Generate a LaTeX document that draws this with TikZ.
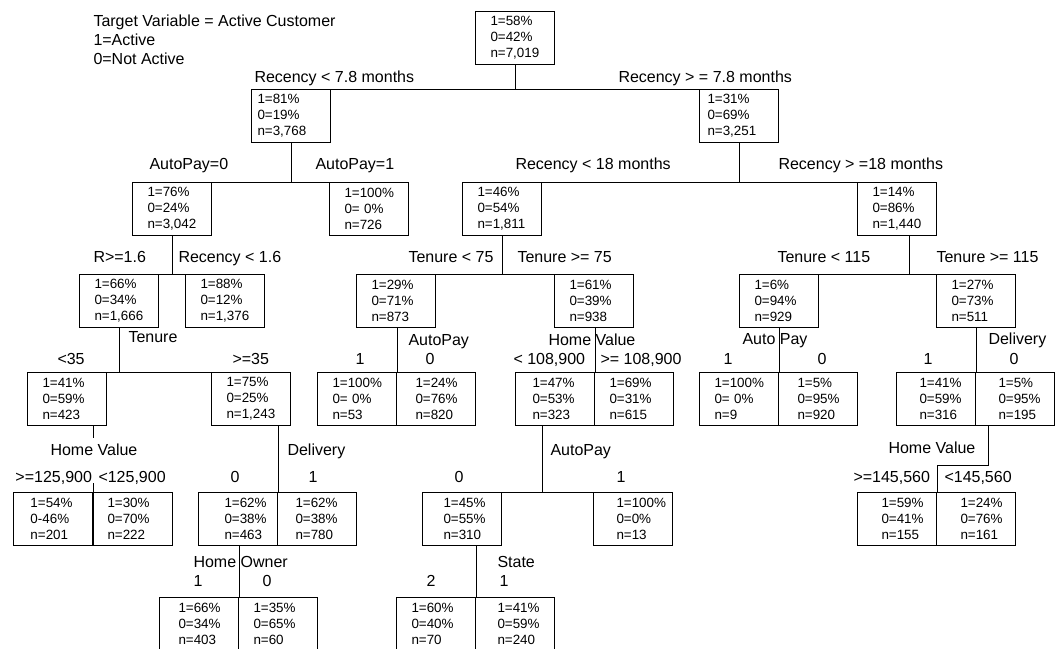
\documentclass[tikz,border=0pt]{standalone}
\usepackage{fontspec}
\setmainfont{Liberation Sans}
\usetikzlibrary{calc}

\begin{document}
\begin{tikzpicture}[x=1pt, y=-1pt, line width=1pt,
    box/.style={draw, anchor=north west, minimum width=79pt, minimum height=53pt,
      inner sep=0pt, text width=#1, align=left, font=\fontsize{13.4}{16}\selectfont},
    box/.default=49pt,
    lbl/.style={anchor=west, inner sep=0pt, text height=12pt, text depth=3.5pt,
      font=\fontsize{16}{19}\selectfont}
    ]
    \useasboundingbox (0,0) rectangle (1060,648);
    \clip (0,0) rectangle (1060,648);

    \node[anchor=north west, inner sep=0pt, align=left, font=\fontsize{16}{19}\selectfont] (title) at (93,14)
      {Target Variable = Active Customer\\1=Active\\0=Not Active};

    \node[box] (root) at (475,11) {1=58\%\\0=42\%\\n=7,019};
    \node[box=67pt] (L) at (251,89) {1=81\%\\0=19\%\\n=3,768};
    \node[box=63pt] (R) at (699,89) {1=31\%\\0=69\%\\n=3,251};
    \node[box] (A0) at (132,182) {1=76\%\\0=24\%\\n=3,042};
    \node[box] (A1) at (329,182) {1=100\%\\0= 0\%\\n=726};
    \node[box] (R18) at (462,182) {1=46\%\\0=54\%\\n=1,811};
    \node[box] (R18b) at (857,182) {1=14\%\\0=86\%\\n=1,440};
    \node[box] (B0) at (79,274) {1=66\%\\0=34\%\\n=1,666};
    \node[box] (B1) at (185,274) {1=88\%\\0=12\%\\n=1,376};
    \node[box] (T0) at (356,274) {1=29\%\\0=71\%\\n=873};
    \node[box] (T1) at (554,274) {1=61\%\\0=39\%\\n=938};
    \node[box] (U0) at (739,274) {1=6\%\\0=94\%\\n=929};
    \node[box] (U1) at (936,274) {1=27\%\\0=73\%\\n=511};
    \node[box] (C0) at (27,372) {1=41\%\\0=59\%\\n=423};
    \node[box] (C1) at (211,372) {1=75\%\\0=25\%\\n=1,243};
    \node[box] (D1) at (317,372) {1=100\%\\0= 0\%\\n=53};
    \node[box=41pt] (D0) at (396,372) {1=24\%\\0=76\%\\n=820};
    \node[box=45pt] (E0) at (515,372) {1=47\%\\0=53\%\\n=323};
    \node[box] (E1) at (594,372) {1=69\%\\0=31\%\\n=615};
    \node[box] (F1) at (699,372) {1=100\%\\0= 0\%\\n=9};
    \node[box=41pt] (F0) at (778,372) {1=5\%\\0=95\%\\n=920};
    \node[box=33pt] (G1) at (896,372) {1=41\%\\0=59\%\\n=316};
    \node[box=33pt] (G0) at (975,372) {1=5\%\\0=95\%\\n=195};
    \node[box=45pt] (H0) at (13,492) {1=54\%\\0-46\%\\n=201};
    \node[box=51pt] (H1) at (93,492) {1=30\%\\0=70\%\\n=222};
    \node[box=27pt] (I0) at (198,492) {1=62\%\\0=38\%\\n=463};
    \node[box=43pt] (I1) at (277,492) {1=62\%\\0=38\%\\n=780};
    \node[box=37pt] (J0) at (422,492) {1=45\%\\0=55\%\\n=310};
    \node[box=33pt] (J1) at (593,492) {1=100\%\\0=0\%\\n=13};
    \node[box=31pt] (K0) at (857,492) {1=59\%\\0=41\%\\n=155};
    \node[box=31pt] (K1) at (936,492) {1=24\%\\0=76\%\\n=161};
    \node[box=41pt] (L1) at (159,597) {1=66\%\\0=34\%\\n=403};
    \node[box] (L0) at (238,597) {1=35\%\\0=65\%\\n=60};
    \node[box] (M2) at (396,597) {1=60\%\\0=40\%\\n=70};
    \node[box=35pt] (M1) at (475,597) {1=41\%\\0=59\%\\n=240};

    \node[lbl] (lL) at (254,78) {Recency < 7.8 months};
    \node[lbl] (lR) at (618,78) {Recency > = 7.8 months};
    \node[lbl] (lA0) at (149,165) {AutoPay=0};
    \node[lbl] (lA1) at (315,165) {AutoPay=1};
    \node[lbl] (lR18) at (515,165) {Recency < 18 months};
    \node[lbl] (lR18b) at (778,165) {Recency > =18 months};
    \node[lbl] (lB0) at (93,258) {R>=1.6};
    \node[lbl] (lB1) at (178,258) {Recency < 1.6};
    \node[lbl] (lT0) at (408,258) {Tenure < 75};
    \node[lbl] (lT1) at (517,258) {Tenure >= 75};
    \node[lbl] (lU0) at (777,258) {Tenure < 115};
    \node[lbl] (lU1) at (936,258) {Tenure >= 115};
    \node[lbl] (sB) at (128,338) {Tenure};
    \node[lbl] (lC0) at (57,360) {<35};
    \node[lbl] (lC1) at (232,360) {>=35};
    \node[lbl] (sT0) at (408,341) {AutoPay};
    \node[lbl, anchor=center] (lD1) at (360,360) {1};
    \node[lbl, anchor=center] (lD0) at (430,360) {0};
    \node[lbl] (sT1) at (548,341) {Home Value};
    \node[lbl] (lE0) at (513,360) {< 108,900};
    \node[lbl] (lE1) at (600,360) {>= 108,900};
    \node[lbl] (sU0) at (742,340) {Auto Pay};
    \node[lbl, anchor=center] (lF1) at (728,360) {1};
    \node[lbl, anchor=center] (lF0) at (822,360) {0};
    \node[lbl] (sU1) at (988,340) {Delivery};
    \node[lbl, anchor=center] (lG1) at (928,360) {1};
    \node[lbl, anchor=center] (lG0) at (1014,360) {0};
    \node[lbl] (sC0) at (50,451) {Home Value};
    \node[lbl] (lH0) at (15,478) {>=125,900};
    \node[lbl] (lH1) at (98,478) {<125,900};
    \node[lbl] (sC1) at (287,451) {Delivery};
    \node[lbl, anchor=center] (lI0) at (235,478) {0};
    \node[lbl, anchor=center] (lI1) at (313,478) {1};
    \node[lbl] (sE0) at (550,451) {AutoPay};
    \node[lbl, anchor=center] (lJ0) at (459,478) {0};
    \node[lbl, anchor=center] (lJ1) at (621,478) {1};
    \node[lbl] (sG) at (888,449) {Home Value};
    \node[lbl] (lK0) at (853,478) {>=145,560};
    \node[lbl] (lK1) at (944,478) {<145,560};
    \node[lbl] (sI0) at (193,563) {Home Owner};
    \node[lbl, anchor=center] (lL1) at (198,582) {1};
    \node[lbl, anchor=center] (lL0) at (267,582) {0};
    \node[lbl] (sJ0) at (497,563) {State};
    \node[lbl, anchor=center] (lM2) at (431,582) {2};
    \node[lbl, anchor=center] (lM1) at (504,582) {1};

    \coordinate (u) at ($(R18b.south)+(12.5,0)$);
    \coordinate (e) at ($(E0.south)+(-13,0)$);
    \coordinate (g) at ($(G0.south west)+(13,0)$);

    \draw (root.south) -- (root.south |- L.north);
    \draw (L.north east) -- (R.north west);
    \draw (L.south) -- (L.south |- A0.north);
    \draw (A0.north east) -- (A1.north west);
    \draw (R.south) -- (R.south |- R18.north);
    \draw (R18.north east) -- (R18b.north west);
    \draw (A0.south) -- (A0.south |- B0.north);
    \draw (B0.north east) -- (B1.north west);
    \draw (R18.south) -- (R18.south |- T0.north);
    \draw (T0.north east) -- (T1.north west);
    \draw (u) -- (u |- U0.north);
    \draw (U0.north east) -- (U1.north west);
    \draw (B0.south) -- (B0.south |- C0.north);
    \draw (C0.north east) -- (C1.north west);
    \draw (T0.south -| D1.north east) -- (D1.north east);
    \draw (T1.south -| E0.north east) -- (E0.north east);
    \draw (U0.south -| F1.north east) -- (F1.north east);
    \draw (U1.south -| G1.north east) -- (G1.north east);
    \draw (C0.south -| H0.north east) -- +(0,12);
    \draw (H0.north east) -- +(0,-9);
    \draw (C1.south -| I0.north east) -- (I0.north east);
    \draw (e) -- (e |- J0.north);
    \draw (J0.north east) -- (J1.north west);
    \draw (g) |- ($(K0.north east)+(0,-27)$) -- (K0.north east);
    \draw (I0.south -| L1.north east) -- (L1.north east);
    \draw (J0.south -| M2.north east) -- (M2.north east);
  \end{tikzpicture}
\end{document}
